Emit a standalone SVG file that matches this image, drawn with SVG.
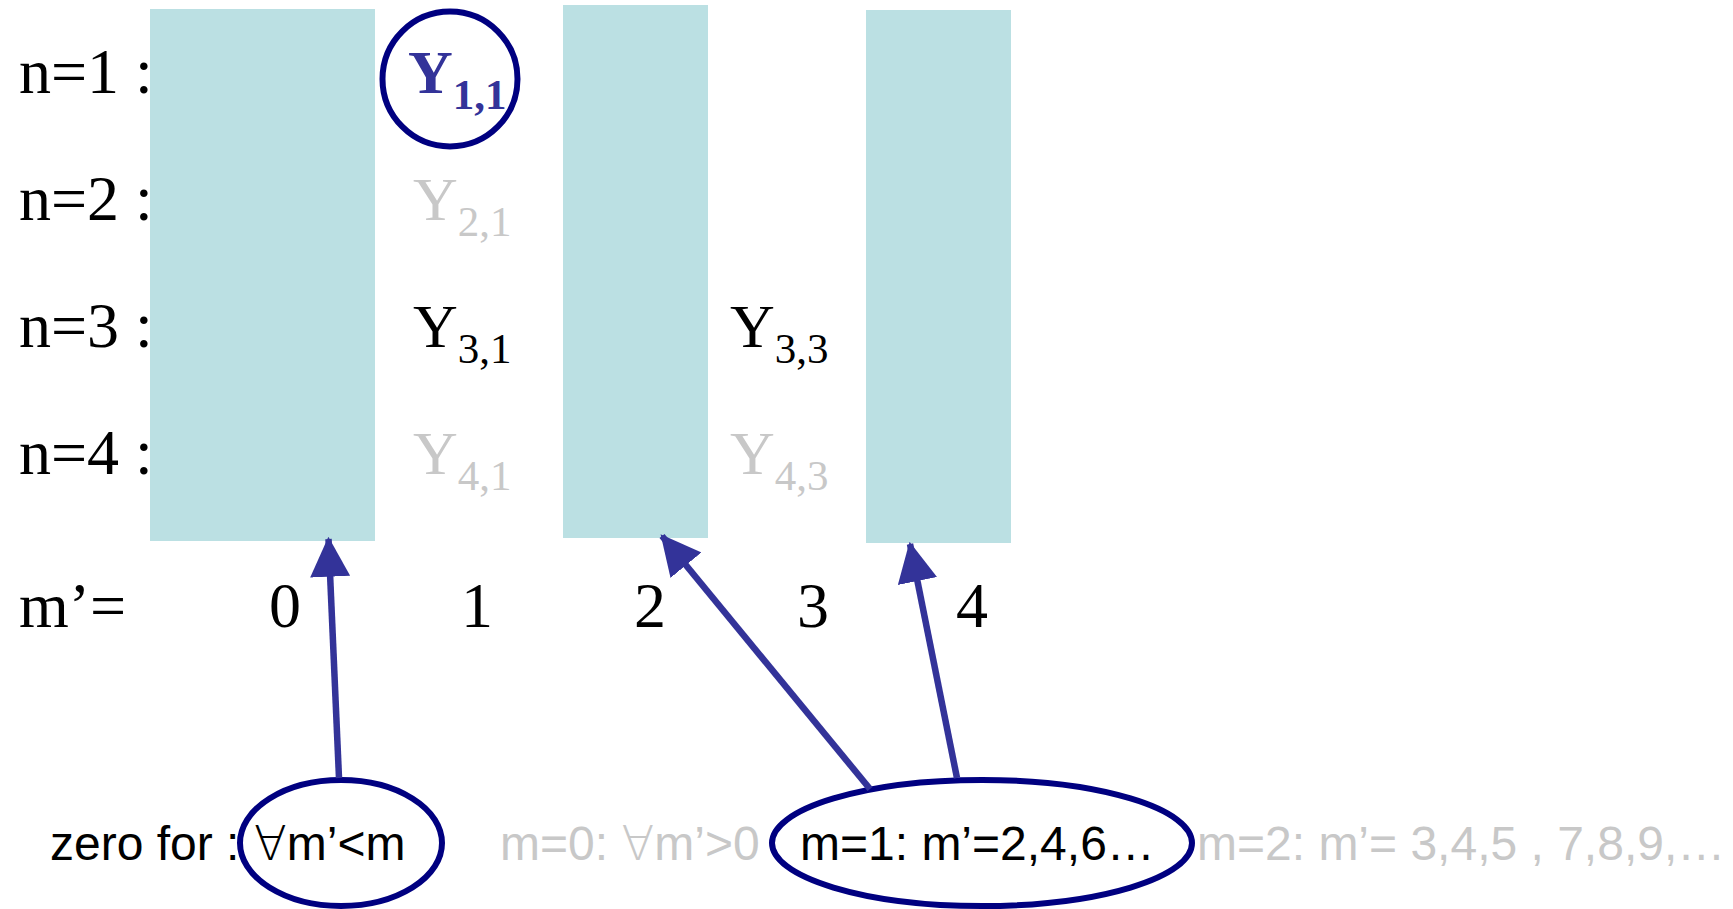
<svg xmlns="http://www.w3.org/2000/svg" width="1733" height="909" viewBox="0 0 1733 909">
<style>
.bar{fill:#BBE0E3;stroke:none}
.lab{font-family:"Liberation Serif","Times New Roman",serif;font-size:64px;fill:#000}
.y{font-family:"Liberation Serif","Times New Roman",serif;font-size:62px}
.sub{font-size:43px}
.blk{fill:#000}
.gry{fill:#C8C8C8}
.hi{fill:#333399;font-weight:bold}
.sans{font-family:"Liberation Sans",Arial,"DejaVu Sans",sans-serif;font-size:48px}
.fa{font-family:"DejaVu Sans",sans-serif;font-weight:200}
.ring{fill:none;stroke:#000080;stroke-width:6}
.arr{fill:none;stroke:#333399;stroke-width:6.5}
</style>
<defs>
<marker id="ah" markerUnits="userSpaceOnUse" markerWidth="40" markerHeight="40" viewBox="0 0 36 36" refX="34" refY="18" orient="auto">
<path d="M0,0 L36,18 L0,36 Z" fill="#333399"/>
</marker>
</defs>
<rect width="1733" height="909" fill="#fff"/>
<g id="bars">
<rect id="bar0" class="bar" x="150" y="9" width="225" height="532"/>
<rect id="bar2" class="bar" x="563" y="5" width="145" height="533"/>
<rect id="bar4" class="bar" x="866" y="10" width="145" height="533"/>
</g>
<g id="rowlabels">
<text class="lab" x="19" y="93">n=1 :</text>
<text class="lab" x="19" y="220">n=2 :</text>
<text class="lab" x="19" y="347">n=3 :</text>
<text class="lab" x="19" y="474">n=4 :</text>
</g>
<g id="y11"><circle class="ring" cx="450" cy="79" r="67.5"/><text class="y hi" x="408" y="93">Y<tspan class="sub" dy="16">1,1</tspan></text></g>
<g id="y21"><text class="y gry" x="413" y="220">Y<tspan class="sub" dy="16">2,1</tspan></text></g>
<g id="y31"><text class="y blk" x="413" y="347">Y<tspan class="sub" dy="16">3,1</tspan></text></g>
<g id="y41"><text class="y gry" x="413" y="474">Y<tspan class="sub" dy="16">4,1</tspan></text></g>
<g id="y33"><text class="y blk" x="730" y="347">Y<tspan class="sub" dy="16">3,3</tspan></text></g>
<g id="y43"><text class="y gry" x="730" y="474">Y<tspan class="sub" dy="16">4,3</tspan></text></g>
<g id="axis">
<text class="lab" x="19" y="627">m’=</text>
<text class="lab" x="285" y="627" text-anchor="middle">0</text>
<text class="lab" x="477" y="627" text-anchor="middle">1</text>
<text class="lab" x="650" y="627" text-anchor="middle">2</text>
<text class="lab" x="813" y="627" text-anchor="middle">3</text>
<text class="lab" x="972" y="627" text-anchor="middle">4</text>
</g>
<g id="zero"><text class="sans blk" x="50" y="860">zero for :</text></g>
<g id="cond0"><ellipse class="ring" cx="341" cy="843" rx="101" ry="63"/><text class="sans blk" x="254" y="860"><tspan class="fa">∀</tspan>m’&lt;m</text></g>
<g id="m0"><text class="sans gry" x="500" y="860">m=0: <tspan class="fa">∀</tspan>m’&gt;0</text></g>
<g id="m1"><ellipse class="ring" cx="982" cy="843" rx="210" ry="63"/><text class="sans blk" x="800" y="860">m=1: m’=2,4,6…</text></g>
<g id="m2"><text class="sans gry" x="1197" y="860">m=2: m’= 3,4,5 , 7,8,9,…</text></g>
<g id="connectors">
<line class="arr" x1="339" y1="778" x2="328.5" y2="539" marker-end="url(#ah)"/>
<line class="arr" x1="870" y1="789" x2="662" y2="536" marker-end="url(#ah)"/>
<line class="arr" x1="957" y1="778" x2="910" y2="544" marker-end="url(#ah)"/>
</g>
</svg>
